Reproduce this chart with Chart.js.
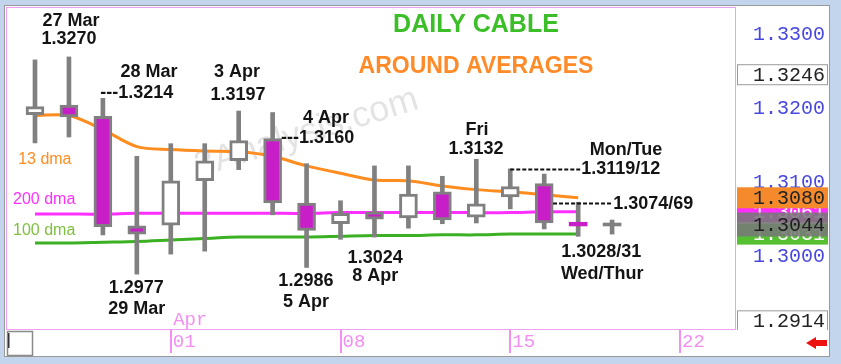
<!DOCTYPE html>
<html lang="en">
<head>
<meta charset="utf-8">
<title>Daily Cable</title>
<script src="https://cdn.jsdelivr.net/npm/chart.js@4.4.1/dist/chart.umd.min.js"></script>
<style>
  html, body { margin: 0; padding: 0; background: #c3d5ec; }
  #cableChart { display: block; }
</style>
</head>
<body>
<canvas id="cableChart" width="841" height="364"></canvas>
<script>
// Séances
const sessions = ['26 Mar', '27 Mar', '28 Mar', '29 Mar', '01 Apr', '02 Apr', '03 Apr', '04 Apr', '05 Apr',
    '08 Apr', '09 Apr', '10 Apr', '11 Apr', '12 Apr', '15 Apr', '16 Apr', '17 Apr', '18 Apr'];
const opens  = [1.3192, 1.3205, 1.3190, 1.3042, 1.3043, 1.3103, 1.3130, 1.3160, 1.3073, 1.3045, 1.3061, 1.3053, 1.3088, 1.3054, 1.3081, 1.3099, 1.3047, 1.3046];
const highs  = [1.3266, 1.3270, 1.3214, 1.3136, 1.3153, 1.3153, 1.3197, 1.3195, 1.3126, 1.3076, 1.3123, 1.3123, 1.3109, 1.3132, 1.3119, 1.3112, 1.3074, 1.3050];
const lows   = [1.3154, 1.3162, 1.3030, 1.2977, 1.3004, 1.3008, 1.3118, 1.3057, 1.2986, 1.3024, 1.3027, 1.3039, 1.3045, 1.3046, 1.3065, 1.3038, 1.3028, 1.3031];
const closes = [1.3203, 1.3189, 1.3041, 1.3031, 1.3103, 1.3130, 1.3157, 1.3073, 1.3036, 1.3059, 1.3051, 1.3085, 1.3050, 1.3072, 1.3095, 1.3046, 1.3042, 1.3042];

// Moyennes mobiles
const ma13  = [1.3191, 1.3191, 1.3172, 1.3149, 1.3145, 1.3143, 1.3142, 1.3136, 1.3123, 1.3113, 1.3104, 1.3103, 1.3096, 1.3091, 1.3088, 1.3084, 1.3080];
const ma200 = [1.3058, 1.3058, 1.3058, 1.3059, 1.3059, 1.3059, 1.3059, 1.3059, 1.3059, 1.3060, 1.3060, 1.3060, 1.3060, 1.3060, 1.3060, 1.3061, 1.3061];
const ma100 = [1.3019, 1.3019, 1.3020, 1.3021, 1.3023, 1.3025, 1.3027, 1.3027, 1.3027, 1.3028, 1.3029, 1.3029, 1.3030, 1.3030, 1.3031, 1.3031, 1.3031];

// Axes
const priceTicks = [1.3000, 1.3100, 1.3200, 1.3300];
const dayTicks = [4, 9, 14, 19];
const dayTickLabels = ['01', '08', '15', '22'];
const lastPrice = 1.3044;
const windowHigh = 1.3246;
const windowLow = 1.2914;

const GRAY = '#808080';
const BODY_DOWN = '#c81ec8';
const ORANGE = '#ff8c1e';
const PINK_LINE = '#ff30ff';
const GREEN = '#3cb023';
const AXIS_PINK = '#f38ef3';

// Annotations du graphique (ancrées en index de séance / prix)
const notes = [
    { x: 12.99, y: 1.3313, text: 'DAILY CABLE', font: 'bold 25px "Liberation Sans"', color: '#3cbe28' },
    { x: 12.99, y: 1.3257, text: 'AROUND AVERAGES', font: 'bold 23px "Liberation Sans"', color: '#ff8a28' },
    { x: 1.06, y: 1.3318, text: '27 Mar' },
    { x: 1.0, y: 1.3294, text: '1.3270' },
    { x: 3.36, y: 1.3250, text: '28 Mar' },
    { x: 1.92, y: 1.3221, text: '---1.3214', align: 'left' },
    { x: 5.95, y: 1.3249, text: '3 Apr' },
    { x: 5.98, y: 1.3218, text: '1.3197' },
    { x: 8.57, y: 1.3187, text: '4 Apr' },
    { x: 7.25, y: 1.3160, text: '---1.3160', align: 'left' },
    { x: 13.02, y: 1.3172, text: 'Fri' },
    { x: 12.99, y: 1.3146, text: '1.3132' },
    { x: 17.41, y: 1.3144, text: 'Mon/Tue' },
    { x: 16.09, y: 1.3119, text: '1.3119/12', align: 'left' },
    { x: 17.03, y: 1.3072, text: '1.3074/69', align: 'left' },
    { x: 16.68, y: 1.3007, text: '1.3028/31' },
    { x: 16.71, y: 1.2977, text: 'Wed/Thur' },
    { x: 7.98, y: 1.2968, text: '1.2986' },
    { x: 7.98, y: 1.2940, text: '5 Apr' },
    { x: 10.02, y: 1.2999, text: '1.3024' },
    { x: 10.02, y: 1.2975, text: '8 Apr' },
    { x: 2.98, y: 1.2958, text: '1.2977' },
    { x: 3.0, y: 1.2930, text: '29 Mar' },
    { x: 0.29, y: 1.3131, text: '13 dma', font: '16px "Liberation Sans"', color: ORANGE },
    { x: 0.27, y: 1.3077, text: '200 dma', font: '16px "Liberation Sans"', color: PINK_LINE },
    { x: 0.27, y: 1.3036, text: '100 dma', font: '16px "Liberation Sans"', color: '#80c040' },
    { x: 4.07, y: 1.2915, text: 'Apr', align: 'left', font: '19px "Liberation Mono"', color: AXIS_PINK }
];

// Pointillés vers les niveaux
const leaders = [
    { from: 14, to: 16.06, y: 1.3119 },
    { from: 15.26, to: 17.0, y: 1.3073 }
];

function isLive(i) {
    return i >= sessions.length - 2;
}

function bodyColor(i) {
    if (i === sessions.length - 1) return GRAY;
    return closes[i] < opens[i] ? BODY_DOWN : '#ffffff';
}

function dropPadding(scale) {
    scale.paddingTop = 0;
    scale.paddingBottom = 0;
    scale.paddingLeft = 0;
    scale.paddingRight = 0;
}

function drawBadge(ctx, scale, b) {
    const h = b.h || 21;
    const py = scale.getPixelForValue(b.value);
    const left = scale.left + 2;
    const w = scale.width - 2;
    ctx.fillStyle = b.fill;
    ctx.fillRect(left, py - h / 2, w, h);
    if (b.stroke) {
        ctx.strokeStyle = b.stroke;
        ctx.lineWidth = 1;
        ctx.strokeRect(left + 0.5, py - h / 2 + 0.5, w - 1, h - 1);
    }
    ctx.fillStyle = b.text;
    ctx.font = '20px "Liberation Mono"';
    ctx.textAlign = 'left';
    ctx.textBaseline = 'middle';
    ctx.fillText(b.value.toFixed(4), scale.left + 18, py + 1);
}

const decor = {
    id: 'decor',
    beforeDraw(chart) {
        const { ctx, width, height } = chart;
        ctx.save();
        ctx.fillStyle = '#c3d5ec';
        ctx.fillRect(0, 0, width, height);
        ctx.fillStyle = '#ffffff';
        ctx.fillRect(5, 6, 824, 350);
        ctx.strokeStyle = '#9a9a9a';
        ctx.lineWidth = 1;
        ctx.strokeRect(4.5, 5.5, 825, 351);
        ctx.restore();
    },
    beforeDatasetsDraw(chart) {
        const { ctx, chartArea, scales: { x, y } } = chart;
        ctx.save();
        ctx.beginPath();
        ctx.rect(chartArea.left, chartArea.top, chartArea.width, chartArea.height);
        ctx.clip();
        ctx.translate(x.getPixelForValue(8.0), y.getPixelForValue(1.3167));
        ctx.rotate(-0.3);
        ctx.font = '36px "Liberation Sans"';
        ctx.fillStyle = 'rgba(0, 0, 0, 0.11)';
        ctx.textAlign = 'center';
        ctx.textBaseline = 'middle';
        ctx.fillText('3Analysis.com', 0, 0);
        ctx.restore();
    },
    afterDatasetsDraw(chart) {
        const { ctx, chartArea, scales: { x, y } } = chart;
        ctx.save();
        // pointillés
        ctx.strokeStyle = '#111';
        ctx.lineWidth = 2;
        ctx.setLineDash([4, 2]);
        leaders.forEach(l => {
            const py = Math.round(y.getPixelForValue(l.y)) + 0.5;
            ctx.beginPath();
            ctx.moveTo(x.getPixelForValue(l.from), py);
            ctx.lineTo(x.getPixelForValue(l.to), py);
            ctx.stroke();
        });
        ctx.setLineDash([]);
        // textes
        ctx.textBaseline = 'middle';
        notes.forEach(n => {
            ctx.font = n.font || 'bold 18px "Liberation Sans"';
            ctx.fillStyle = n.color || '#141414';
            ctx.textAlign = n.align || 'center';
            ctx.fillText(n.text, x.getPixelForValue(n.x), y.getPixelForValue(n.y));
        });
        // cadre rose
        ctx.strokeStyle = '#f0a0f0';
        ctx.lineWidth = 1;
        ctx.strokeRect(chartArea.left + 0.5, chartArea.top - 0.5, chartArea.width, chartArea.height + 1);
        ctx.restore();
    },
    afterDraw(chart) {
        const { ctx, chartArea, scales: { y } } = chart;
        ctx.save();
        ctx.beginPath();
        ctx.rect(y.left, chartArea.top, y.width, chartArea.height + 1);
        ctx.clip();
        const badges = [
            { value: ma200[ma200.length - 1], fill: PINK_LINE, text: '#ffffff' },
            { value: ma13[ma13.length - 1], fill: '#f48a2c', text: '#222222' },
            { value: ma100[ma100.length - 1], fill: '#55c030', text: '#ffffff' },
            { value: lastPrice, fill: 'rgba(120, 120, 120, 0.88)', text: '#1e1e1e', h: 24 },
            { value: windowHigh, fill: '#ffffff', stroke: '#9a9a9a', text: '#222222' },
            { value: windowLow, fill: '#ffffff', stroke: '#9a9a9a', text: '#222222' }
        ];
        badges.forEach(b => drawBadge(ctx, y, b));
        ctx.restore();

        ctx.save();
        // petite case en bas à gauche
        const bx = chartArea.left + 1;
        const by = chartArea.bottom + 2;
        ctx.fillStyle = '#ffffff';
        ctx.fillRect(bx, by, 25, 25);
        ctx.strokeStyle = '#8a8a8a';
        ctx.lineWidth = 1.5;
        ctx.strokeRect(bx + 0.5, by + 0.5, 25, 24);
        ctx.fillStyle = '#333';
        ctx.fillRect(bx + 1, by + 2, 1.5, 15);
        // flèche rouge
        const ax = y.right - 22;
        const ay = chartArea.bottom + 14;
        ctx.fillStyle = '#ee1111';
        ctx.beginPath();
        ctx.moveTo(ax, ay);
        ctx.lineTo(ax + 10, ay - 6);
        ctx.lineTo(ax + 10, ay - 3);
        ctx.lineTo(ax + 21, ay - 3);
        ctx.lineTo(ax + 21, ay + 3);
        ctx.lineTo(ax + 10, ay + 3);
        ctx.lineTo(ax + 10, ay + 6);
        ctx.closePath();
        ctx.fill();
        ctx.restore();
    }
};

function initializeCableChart() {
    const ctx = document.getElementById('cableChart').getContext('2d');
    new Chart(ctx, {
        type: 'bar',
        data: {
            datasets: [{
                label: 'Corps',
                data: sessions.map((s, i) => ({ x: i, y: [opens[i], closes[i]] })),
                backgroundColor: c => bodyColor(c.dataIndex),
                borderColor: GRAY,
                borderWidth: c => isLive(c.dataIndex) ? 0 : 3,
                borderSkipped: false,
                barThickness: 18,
                grouped: false,
                order: 0
            }, {
                label: 'Mèches',
                data: sessions.map((s, i) => ({ x: i, y: [lows[i], highs[i]] })),
                backgroundColor: GRAY,
                borderWidth: 0,
                barThickness: 4,
                grouped: false,
                order: 1
            }, {
                type: 'line',
                label: '13 dma',
                data: ma13.map((v, i) => ({ x: i, y: v })),
                borderColor: ORANGE,
                borderWidth: 3,
                pointRadius: 0,
                tension: 0.3,
                order: 2
            }, {
                type: 'line',
                label: '200 dma',
                data: ma200.map((v, i) => ({ x: i, y: v })),
                borderColor: PINK_LINE,
                borderWidth: 3,
                pointRadius: 0,
                tension: 0.3,
                order: 3
            }, {
                type: 'line',
                label: '100 dma',
                data: ma100.map((v, i) => ({ x: i, y: v })),
                borderColor: GREEN,
                borderWidth: 3,
                pointRadius: 0,
                tension: 0.3,
                order: 4
            }]
        },
        options: {
            responsive: false,
            animation: false,
            devicePixelRatio: 1,
            layout: { padding: { left: 6, top: 8, right: 13, bottom: 9 } },
            plugins: {
                legend: { display: false },
                tooltip: { enabled: false }
            },
            scales: {
                x: {
                    type: 'linear',
                    min: -0.854,
                    max: 20.62,
                    offset: false,
                    afterBuildTicks: scale => { scale.ticks = dayTicks.map(v => ({ value: v })); },
                    afterFit: scale => { scale.height = 26; dropPadding(scale); },
                    grid: {
                        offset: false,
                        drawOnChartArea: false,
                        drawTicks: true,
                        tickLength: 24,
                        color: AXIS_PINK,
                        lineWidth: 2
                    },
                    border: { display: false },
                    ticks: {
                        autoSkip: false,
                        maxRotation: 0,
                        minRotation: 0,
                        align: 'start',
                        labelOffset: 2,
                        padding: -22,
                        color: AXIS_PINK,
                        font: { family: 'Liberation Mono', size: 19 },
                        callback: (v, i) => dayTickLabels[i]
                    }
                },
                y: {
                    position: 'right',
                    min: 1.2903,
                    max: 1.3336,
                    afterBuildTicks: scale => { scale.ticks = priceTicks.map(v => ({ value: v })); },
                    afterFit: scale => { scale.width = 93; dropPadding(scale); },
                    grid: { display: false, drawTicks: false },
                    border: { display: false },
                    ticks: {
                        padding: 18,
                        color: '#4848e0',
                        font: { family: 'Liberation Mono', size: 20 },
                        callback: v => Number(v).toFixed(4)
                    }
                }
            }
        },
        plugins: [decor]
    });
}

initializeCableChart();
</script>
</body>
</html>
